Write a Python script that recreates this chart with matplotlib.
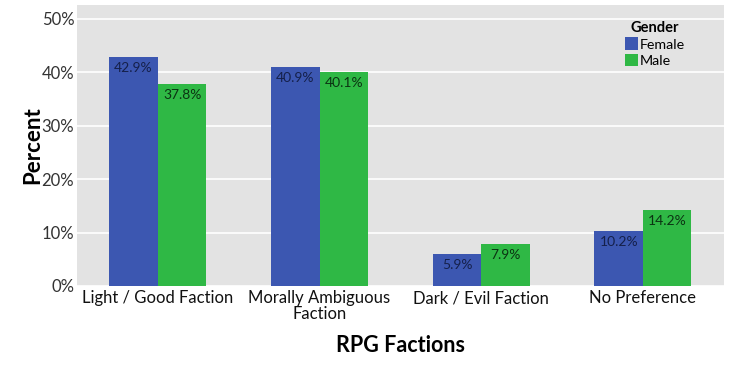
import matplotlib
matplotlib.use("Agg")
import matplotlib.pyplot as plt
import numpy as np

categories = ["Light / Good Faction", "Morally Ambiguous\nFaction", "Dark / Evil Faction", "No Preference"]
female = [42.9, 40.9, 5.9, 10.2]
male = [37.8, 40.1, 7.9, 14.2]
yticks = [0, 10, 20, 30, 40, 50]

plt.rcParams['font.family'] = ['Lato', 'DejaVu Sans']

fig = plt.figure(figsize=(7.30, 3.66), dpi=100)
ax = fig.add_axes([0.1055, 0.2186, 0.886, 0.768])
ax.set_facecolor("#e3e3e3")

x = np.arange(1, len(categories) + 1)
w = 0.3
blue = "#3c57b1"
green = "#2fb845"
ax.bar(x - w/2, female, w, color=blue, label="Female", zorder=3)
ax.bar(x + w/2, male, w, color=green, label="Male", zorder=3)

for xi, v in zip(x - w/2, female):
    ax.text(xi, v - 0.9, f"{v:.1f}%", ha="center", va="top", fontsize=10, color="#15204a", zorder=4)
for xi, v in zip(x + w/2, male):
    ax.text(xi, v - 0.9, f"{v:.1f}%", ha="center", va="top", fontsize=10, color="#0b3312", zorder=4)

ax.set_xlim(0.5, 4.5)
ax.set_ylim(0, 52.6)
ax.set_yticks(yticks)
ax.set_yticklabels([f"{t}%" for t in yticks], fontsize=12, color="#333333")
ax.set_xticks(x)
ax.set_xticklabels(categories, fontsize=12, color="#111111", linespacing=0.95)
ax.tick_params(axis="both", length=0, pad=2)
ax.tick_params(axis="x", pad=3)
ax.yaxis.grid(True, color="white", linewidth=1.2, zorder=0)
ax.set_axisbelow(True)
for s in ax.spines.values():
    s.set_visible(False)

ax.set_ylabel("Percent", fontsize=16, fontweight="bold", labelpad=-1.5)
ax.set_xlabel("RPG Factions", fontsize=15.5, fontweight="bold", labelpad=10)

leg = ax.legend(title="Gender", loc="upper right", bbox_to_anchor=(0.958, 0.985), frameon=False,
                fontsize=10.3, title_fontproperties={"weight": "bold", "size": 10.5},
                handlelength=0.9, handleheight=1.0, handletextpad=0.15, labelspacing=0.2,
                borderpad=0.3)
leg._legend_box.align = "center"

fig.savefig("out.png", dpi=100)
